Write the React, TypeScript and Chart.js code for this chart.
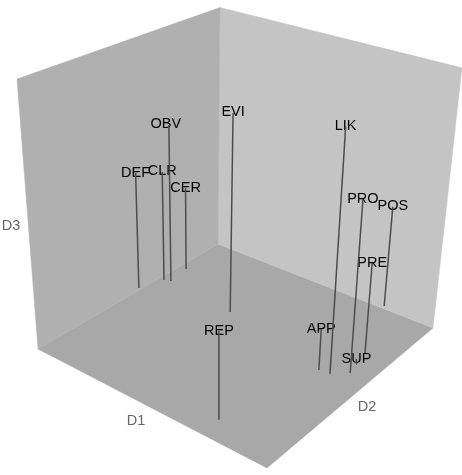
import React, { useEffect, useRef } from "react";
import { Chart, registerables } from "chart.js";

Chart.register(...registerables);

const labels = ["DEF", "CLR", "OBV", "CER", "EVI", "REP", "LIK", "PRO", "POS", "PRE", "APP", "SUP"];
const d1 = [-0.011, 0.023, 0.049, 0.033, 0.367, 0.737, 0.873, 0.923, 0.784, 0.897, 0.831, 0.909];
const d2 = [0.532, 0.639, 0.65, 0.759, 0.619, 0.092, 0.525, 0.573, 1.018, 0.707, 0.52, 0.631];
const d3 = [0.486, 0.462, 0.653, 0.355, 0.79, 0.332, 0.903, 0.654, 0.414, 0.36, 0.165, 0.02];

const leftWall = [[0, 0, 0], [0, 1, 0], [0, 1, 1], [0, 0, 1]];
const rightWall = [[0, 1, 0], [1, 1, 0], [1, 1, 0.99], [0, 1, 1]];
const floor = [[0, 0, 0], [1, 0, 0], [1, 1, 0], [0, 1, 0]];

// Perspective camera of the picture (3x4 projection matrix)
const camera = [
  [190.51, 218.46, -22.955, 38],
  [51.54, -61.95, -279.08, 349],
  [-0.14415, 0.17642, -0.115, 1],
];

function project(u: number, v: number, w: number) {
  const [a, b, c] = camera;
  const s = c[0] * u + c[1] * v + c[2] * w + c[3];
  return {
    x: (a[0] * u + a[1] * v + a[2] * w + a[3]) / s,
    y: (b[0] * u + b[1] * v + b[2] * w + b[3]) / s,
  };
}

const polygon = (corners: number[][]) => {
  const pts = corners.map(([u, v, w]) => project(u, v, w));
  return [...pts, pts[0]];
};

export default function App() {
  const ref = useRef<HTMLCanvasElement>(null);
  useEffect(() => {
    const face = (data: { x: number; y: number }[], color: string) => ({
      data,
      showLine: true,
      fill: "shape",
      backgroundColor: color,
      borderColor: color,
      borderWidth: 0.5,
      pointRadius: 0,
      tension: 0,
      order: 20,
    });
    const stems = labels.map((_, i) => ({
      data: [project(d1[i], d2[i], 0), project(d1[i], d2[i], d3[i])],
      showLine: true,
      fill: false,
      borderColor: "#4d4d4d",
      borderWidth: 1.5,
      pointRadius: 0,
      order: 10,
    }));
    const textPlugin = {
      id: "texts",
      afterDatasetDraw(chart: any, args: any) {
        if (args.index !== 0) return;
        const { ctx, scales } = chart;
        ctx.save();
        ctx.textAlign = "center";
        ctx.textBaseline = "middle";
        ctx.font = '14.5px "Liberation Sans"';
        ctx.fillStyle = "#000000";
        labels.forEach((t, i) => {
          const p = project(d1[i], d2[i], d3[i]);
          const nudge = t === "OBV" ? -3 : 0;
          ctx.fillText(t, scales.x.getPixelForValue(p.x) + nudge, scales.y.getPixelForValue(p.y) - 0.5);
        });
        ctx.fillStyle = "#666666";
        ctx.fillText("D1", 136, 421);
        ctx.fillText("D2", 367, 407);
        ctx.fillText("D3", 11, 226);
        ctx.restore();
      },
    };
    const chart = new Chart(ref.current!, {
      type: "scatter",
      data: {
        datasets: [
          face(polygon(leftWall), "#b0b0b0"),
          face(polygon(rightWall), "#c4c4c4"),
          face(polygon(floor), "#a8a8a8"),
          ...stems,
        ] as any,
      },
      options: {
        animation: false,
        responsive: false,
        layout: { padding: 0 },
        plugins: { legend: { display: false }, tooltip: { enabled: false } },
        scales: {
          x: { type: "linear", display: false, min: 0, max: 462 },
          y: { type: "linear", display: false, min: 0, max: 475, reverse: true },
        },
      },
      plugins: [textPlugin],
    } as any);
    return () => chart.destroy();
  }, []);
  return (
    <div style={{ position: "fixed", left: 0, top: 0, width: 462, height: 475, background: "#fff" }}>
      <canvas ref={ref} width={462} height={475} style={{ display: "block", filter: "blur(0.4px)" }} />
    </div>
  );
}
